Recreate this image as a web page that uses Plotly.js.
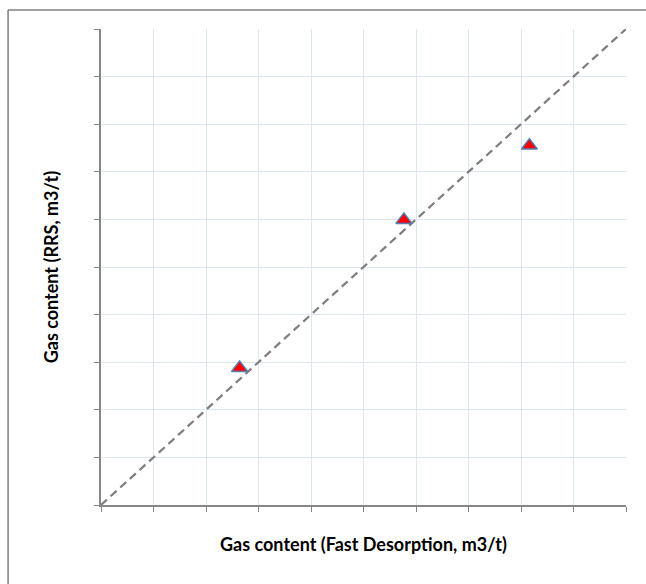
<!DOCTYPE html>
<html>
<head>
<meta charset="utf-8">
<script src="https://cdn.plot.ly/plotly-3.0.1.min.js"></script>
<style>html,body{margin:0;padding:0;background:#fff;}#chart{width:646px;height:584px;}</style>
</head>
<body>
<div id="chart"></div>
<script>
var fastDesorption = [2.64, 5.77, 8.16];
var rrsContent = [2.88, 5.99, 7.55];
var lineX = [0, 10];
var lineY = [0, 10];
var xTitle = "Gas content (Fast Desorption, m3/t)";
var yTitle = "Gas content (RRS, m3/t)";

var traces = [
  {x: lineX, y: lineY, mode: 'lines', type: 'scatter',
   line: {color: '#7f7f7f', width: 2.25, dash: '8px,5px'}, hoverinfo: 'skip', showlegend: false},
  {x: fastDesorption, y: rrsContent, mode: 'markers', type: 'scatter',
   marker: {symbol: 'triangle-up', size: 14, color: '#ff0000', line: {color: '#4f81bd', width: 1.5}},
   showlegend: false}
];

var axisBase = {
  range: [0, 10], dtick: 1, tick0: 0, showticklabels: false,
  showline: true, linecolor: '#868686', linewidth: 2,
  ticks: 'outside', ticklen: 5, tickcolor: '#868686', tickwidth: 1,
  showgrid: true, gridcolor: '#dce6f2', gridwidth: 1, zeroline: false, fixedrange: true
};

var titleFont = {family: 'Lato, sans-serif', size: 18, color: '#000000', weight: 'bold'};

var layout = {
  width: 646, height: 584,
  margin: {l: 101, r: 20, t: 29, b: 79},
  paper_bgcolor: '#ffffff', plot_bgcolor: '#ffffff',
  showlegend: false,
  xaxis: Object.assign({}, axisBase, {
    title: {text: xTitle, font: titleFont, standoff: 27}
  }),
  yaxis: Object.assign({}, axisBase, {
    title: {text: yTitle, font: titleFont, standoff: 31}
  }),
  shapes: [
    {type: 'line', xref: 'paper', yref: 'paper', x0: -0.177, x1: 1.2, y0: 1.04, y1: 1.04, line: {color: '#7f7f7f', width: 1.5}},
    {type: 'line', xref: 'paper', yref: 'paper', x0: -0.177, x1: -0.177, y0: 1.04, y1: -0.2, line: {color: '#7f7f7f', width: 1.5}}
  ]
};

Plotly.newPlot('chart', traces, layout, {displayModeBar: false, staticPlot: true});
</script>
</body>
</html>
